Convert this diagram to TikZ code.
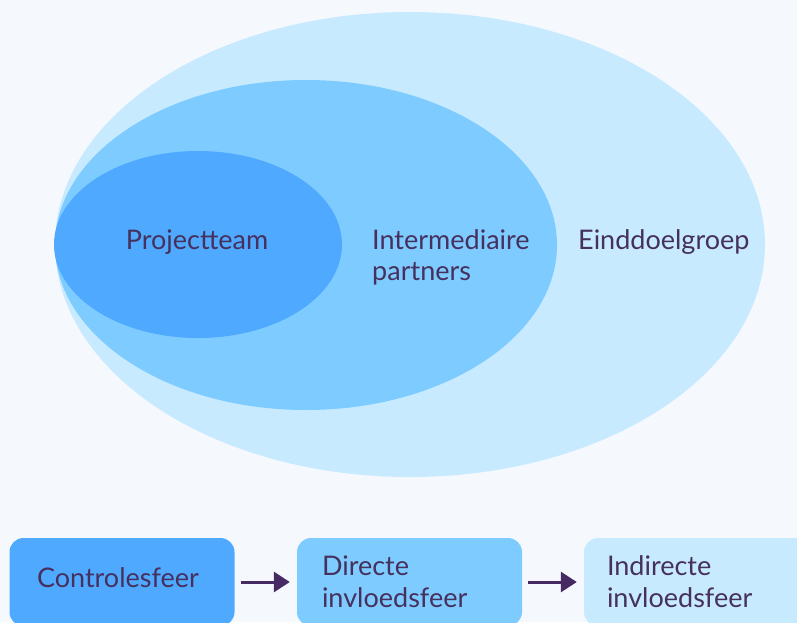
\documentclass[tikz,border=0pt]{standalone}
\usepackage{fontspec}
\setmainfont{Lato}
\usepackage{tikz}
\usetikzlibrary{arrows.meta,positioning,shapes.geometric}
\definecolor{paper}{HTML}{F5F9FE}
\definecolor{ink}{HTML}{45305E}
\definecolor{arrowink}{HTML}{472A64}
\definecolor{ringA}{HTML}{4FA9FF}
\definecolor{ringB}{HTML}{7ECBFF}
\definecolor{ringC}{HTML}{C8EAFF}

\begin{document}
\begin{tikzpicture}[
  x=1pt, y=-1pt,
  font=\fontsize{27}{31.5}\selectfont,
  >={Triangle[length=16pt, width=20pt]},
  ring/.style={ellipse, draw=none, inner sep=0pt},
  lab/.style={text=ink, align=left, inner sep=0pt},
  sphere/.style={draw=none, rounded corners=14pt, minimum width=225pt, minimum height=88pt, inner sep=0pt},
  flow/.style={->, line width=3pt, draw=arrowink, shorten <=6pt, shorten >=7pt},
]
\fill[paper] (0,0) rectangle (797,622);
\useasboundingbox (0,0) rectangle (797,622);
\clip (0,0) rectangle (797,622);

% nested groups, all touching on the left
\node[ring, fill=ringC, minimum width=710pt, minimum height=465pt] (eind)  at (410,244.5) {};
\node[ring, fill=ringB, minimum width=502pt, minimum height=330pt] (inter) at (306,245) {};
\node[ring, fill=ringA, minimum width=288pt, minimum height=187pt] (team)  at (198,244.5) {};
\node[lab] (teamlabel) at (197,242) {Projectteam};
\node[lab, anchor=west] (interlabel) at (372,257.5) {Intermediaire\\partners};
\node[lab, anchor=west] (eindlabel) at (578,242) {Einddoelgroep};

% spheres of influence
\node[sphere, fill=ringA] (ctrl)     at (122,582) {};
\node[sphere, fill=ringB] (direct)   at (409.5,582) {};
\node[sphere, fill=ringC] (indirect) at (696.5,582) {};
\node[lab] at ([xshift=-4pt,yshift=4pt]ctrl.center) {Controlesfeer};
\node[lab, anchor=west] at ([xshift=25pt,yshift=0.5pt]direct.west) {Directe\\invloedsfeer};
\node[lab, anchor=west] at ([xshift=23pt,yshift=0.5pt]indirect.west) {Indirecte\\invloedsfeer};
\draw[flow] (ctrl) -- (direct);
\draw[flow] (direct) -- (indirect);
\end{tikzpicture}
\end{document}
